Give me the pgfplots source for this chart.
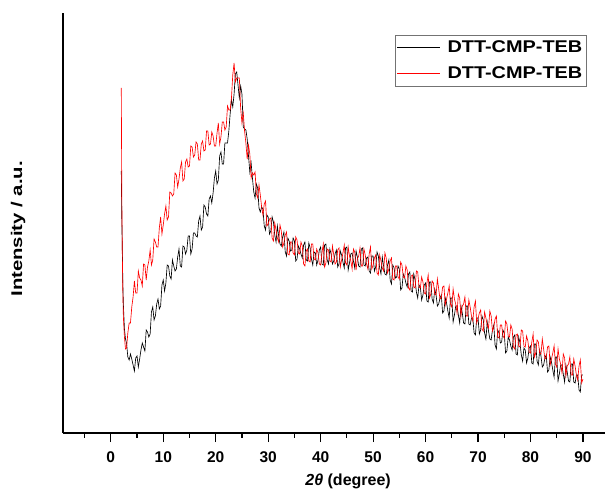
\documentclass[border=0pt]{standalone}
\usepackage{fontspec}
\setmainfont{Liberation Sans}
\newfontfamily\legfont[FakeStretch=1.17]{Liberation Sans}
\newfontfamily\ylabfont[FakeStretch=1.31]{Liberation Sans}
\usepackage{pgfplots}
\pgfplotsset{compat=1.18}
\usepackage{pgfplotstable}

\pgfplotstableread{
x y
2.0 262
2.1 215
2.2 182
2.3 148
2.4 128
2.6 104
2.8 94
3.0 90
3.25 76
3.5 73
3.75 79
4.0 74
4.25 68
4.5 62
4.75 75
5.0 77
5.25 66
5.5 74
5.75 83
6.0 90
6.25 86
6.5 82
6.75 103
7.0 101
7.25 96
7.5 99
7.75 121
8.0 126
8.25 113
8.5 117
8.75 129
9.0 134
9.25 124
9.5 127
9.75 148
10.0 153
10.25 142
10.5 150
10.75 168
11.0 167
11.25 157
11.5 154
11.75 173
12.0 167
12.25 162
12.5 164
12.75 176
13.0 184
13.25 167
13.5 166
13.75 187
14.0 186
14.25 179
14.5 183
14.75 197
15.0 197
15.25 179
15.5 184
15.75 200
16.0 200
16.25 197
16.5 196
16.75 212
17.0 217
17.25 203
17.5 206
17.75 228
18.0 226
18.25 219
18.5 217
18.75 234
19.0 237
19.25 230
19.5 240
19.75 255
20.0 262
20.25 249
20.5 253
20.75 277
21.0 281
21.25 269
21.5 269
21.75 290
22.0 290
22.25 290
22.5 302
22.75 319
23.0 333
23.25 326
23.5 339
23.75 359
24.0 361
24.25 348
24.5 335
24.75 347
25.0 339
25.25 306
25.5 304
25.75 303
26.0 294
26.25 277
26.5 261
26.75 270
27.0 255
27.25 241
27.5 235
27.75 249
28.0 245
28.25 225
28.5 221
28.75 226
29.0 224
29.25 207
29.5 203
29.75 218
30.0 216
30.25 199
30.5 202
30.75 216
31.0 211
31.25 198
31.5 191
31.75 207
32.0 197
32.25 189
32.5 187
32.75 196
33.0 201
33.25 181
33.5 177
33.75 195
34.0 192
34.25 182
34.5 183
34.75 195
35.0 192
35.25 172
35.5 174
35.75 187
36.0 184
36.25 179
36.5 175
36.75 188
37.0 191
37.25 173
37.5 172
37.75 190
38.0 185
38.25 174
38.5 168
38.75 181
39.0 180
39.25 168
39.5 173
39.75 183
40.0 186
40.25 169
40.5 168
40.75 188
41.0 189
41.25 173
41.5 169
41.75 184
42.0 179
42.25 169
42.5 172
42.75 179
43.0 183
43.25 166
43.5 169
43.75 182
44.0 178
44.25 171
44.5 165
44.75 185
45.0 186
45.25 163
45.5 170
45.75 179
46.0 180
46.25 172
46.5 165
46.75 182
47.0 176
47.25 167
47.5 166
47.75 184
48.0 185
48.25 168
48.5 167
48.75 175
49.0 176
49.25 162
49.5 160
49.75 177
50.0 177
50.25 162
50.5 166
50.75 181
51.0 177
51.25 165
51.5 159
51.75 176
52.0 167
52.25 159
52.5 158
52.75 168
53.0 173
53.25 153
53.5 149
53.75 168
54.0 165
54.25 155
54.5 156
54.75 167
55.0 164
55.25 143
55.5 145
55.75 159
56.0 156
56.25 150
56.5 146
56.75 159
57.0 161
57.25 142
57.5 141
57.75 159
58.0 153
58.25 141
58.5 135
58.75 148
59.0 146
59.25 133
59.5 138
59.75 148
60.0 150
60.25 132
60.5 131
60.75 151
61.0 151
61.25 134
61.5 130
61.75 144
62.0 138
62.25 127
62.5 129
62.75 135
63.0 138
63.25 120
63.5 122
63.75 135
64.0 130
64.25 122
64.5 115
64.75 135
65.0 135
65.25 111
65.5 118
65.75 127
66.0 127
66.25 118
66.5 110
66.75 127
67.0 120
67.25 110
67.5 109
67.75 127
68.0 127
68.25 109
68.5 108
68.75 115
69.0 115
69.25 100
69.5 98
69.75 115
70.0 115
70.25 99
70.5 103
70.75 117
71.0 113
71.25 100
71.5 94
71.75 111
72.0 102
72.25 94
72.5 93
72.75 103
73.0 108
73.25 88
73.5 84
73.75 103
74.0 100
74.25 90
74.5 91
74.75 103
75.0 100
75.25 80
75.5 82
75.75 96
76.0 93
76.25 87
76.5 83
76.75 96
77.0 98
77.25 79
77.5 78
77.75 96
78.0 90
78.25 78
78.5 72
78.75 85
79.0 83
79.25 70
79.5 75
79.75 85
80.0 87
80.25 70
80.5 69
80.75 89
81.0 89
81.25 72
81.5 68
81.75 83
82.0 77
82.25 66
82.5 68
82.75 75
83.0 78
83.25 61
83.5 63
83.75 76
84.0 71
84.25 63
84.5 56
84.75 76
85.0 76
85.25 52
85.5 59
85.75 68
86.0 68
86.25 59
86.5 51
86.75 68
87.0 61
87.25 52
87.5 51
87.75 69
88.0 69
88.25 51
88.5 50
88.75 58
89.0 58
89.25 43
89.5 41
89.75 58
90.0 58
}\blackdata

\pgfplotstableread{
x y
2.0 345
2.05 290
2.1 235
2.2 178
2.3 140
2.4 116
2.6 96
2.8 84
3.0 85
3.25 100
3.5 110
3.75 110
4.0 126
4.25 136
4.5 152
4.75 140
5.0 140
5.25 162
5.5 155
5.75 153
6.0 147
6.25 169
6.5 168
6.75 153
7.0 166
7.25 172
7.5 183
7.75 168
8.0 173
8.25 194
8.5 191
8.75 186
9.0 186
9.25 205
9.5 216
9.75 199
10.0 208
10.25 219
10.5 227
10.75 213
11.0 216
11.25 241
11.5 240
11.75 237
12.0 239
12.25 260
12.5 258
12.75 246
13.0 254
13.25 265
13.5 271
13.75 252
14.0 254
14.25 271
14.5 274
14.75 266
15.0 267
15.25 287
15.5 286
15.75 276
16.0 278
16.25 291
16.5 289
16.75 273
17.0 273
17.25 289
17.5 292
17.75 282
18.0 283
18.25 302
18.5 302
18.75 288
19.0 289
19.25 301
19.5 297
19.75 287
20.0 287
20.25 300
20.5 310
20.75 289
21.0 296
21.25 311
21.5 311
21.75 303
22.0 306
22.25 327
22.5 323
22.75 323
23.0 335
23.25 358
23.5 370
23.75 351
24.0 355
24.25 355
24.5 355
24.75 325
25.0 310
25.25 320
25.5 302
25.75 290
26.0 274
26.25 288
26.5 279
26.75 255
27.0 260
27.25 258
27.5 261
27.75 239
28.0 235
28.25 248
28.5 238
28.75 226
29.0 218
29.25 229
29.5 232
29.75 207
30.0 209
30.25 214
30.5 215
30.75 195
31.0 192
31.25 210
31.5 203
31.75 195
32.0 191
32.25 208
32.5 202
32.75 186
33.0 190
33.25 198
33.5 201
33.75 179
34.0 178
34.25 191
34.5 191
34.75 180
35.0 178
35.25 196
35.5 193
35.75 180
36.0 179
36.25 191
36.5 187
36.75 169
37.0 167
37.25 182
37.5 184
37.75 172
38.0 171
38.25 189
38.5 189
38.75 174
39.0 173
39.25 184
39.5 180
39.75 169
40.0 168
40.25 180
40.5 189
40.75 166
41.0 170
41.25 184
41.5 183
41.75 172
42.0 171
42.25 187
42.5 178
42.75 169
43.0 171
43.25 183
43.5 185
43.75 166
44.0 173
44.25 180
44.5 188
44.75 170
45.0 168
45.25 186
45.5 177
45.75 172
46.0 164
46.25 184
46.5 181
46.75 163
47.0 174
47.25 177
47.5 185
47.75 167
48.0 167
48.25 184
48.5 178
48.75 169
49.0 164
49.25 179
49.5 186
49.75 164
50.0 168
50.25 175
50.5 178
50.75 160
51.0 158
51.25 178
51.5 172
51.75 165
52.0 162
52.25 180
52.5 175
52.75 160
53.0 164
53.25 172
53.5 175
53.75 154
54.0 153
54.25 167
54.5 167
54.75 156
55.0 154
55.25 171
55.5 168
55.75 156
56.0 155
56.25 167
56.5 163
56.75 145
57.0 143
57.25 157
57.5 158
57.75 146
58.0 145
58.25 162
58.5 161
58.75 146
59.0 145
59.25 156
59.5 151
59.75 140
60.0 139
60.25 150
60.5 158
60.75 135
61.0 139
61.25 152
61.5 150
61.75 139
62.0 138
62.25 154
62.5 144
62.75 134
63.0 135
63.25 146
63.5 147
63.75 128
64.0 134
64.25 140
64.5 147
64.75 129
65.0 126
65.25 144
65.5 134
65.75 129
66.0 120
66.25 139
66.5 135
66.75 117
67.0 127
67.25 129
67.5 136
67.75 117
68.0 117
68.25 133
68.5 126
68.75 117
69.0 112
69.25 126
69.5 132
69.75 110
70.0 114
70.25 120
70.5 123
70.75 104
71.0 102
71.25 121
71.5 115
71.75 108
72.0 105
72.25 122
72.5 117
72.75 102
73.0 106
73.25 114
73.5 117
73.75 96
74.0 95
74.25 108
74.5 108
74.75 97
75.0 95
75.25 112
75.5 109
75.75 97
76.0 96
76.25 108
76.5 104
76.75 86
77.0 84
77.25 98
77.5 99
77.75 87
78.0 86
78.25 103
78.5 102
78.75 87
79.0 86
79.25 97
79.5 92
79.75 81
80.0 80
80.25 91
80.5 99
80.75 76
81.0 80
81.25 93
81.5 91
81.75 80
82.0 79
82.25 94
82.5 84
82.75 74
83.0 75
83.25 86
83.5 87
83.75 68
84.0 74
84.25 80
84.5 87
84.75 69
85.0 66
85.25 84
85.5 74
85.75 69
86.0 60
86.25 79
86.5 75
86.75 57
87.0 67
87.25 69
87.5 76
87.75 58
88.0 58
88.25 74
88.5 67
88.75 58
89.0 53
89.25 67
89.5 73
89.75 50
90.0 54
}\reddata

\begin{document}
\begin{tikzpicture}
\useasboundingbox (-63pt,-65pt) rectangle (542pt,433pt);
\begin{axis}[
  at={(0pt,0pt)}, anchor=south west,
  scale only axis,
  width=542pt, height=420pt,
  xmin=-9.11, xmax=94.2,
  ymin=0, ymax=420,
  axis x line=bottom,
  axis y line=left,
  axis line style={line width=1.3pt, -},
  xtick={0,10,...,90},
  minor xtick={-5,5,...,95},
  ytick=\empty,
  tick style={line width=1.1pt, black},
  major tick length=9pt,
  minor tick length=4.5pt,
  tick align=outside,
  /pgf/number format/assume math mode=true,
  ticklabel style={font=\bfseries\fontsize{15.5}{17}\selectfont},
  xticklabel style={yshift=-6pt},
  xlabel={\textit{2θ} (degree)},
  ylabel={\ylabfont\bfseries\fontsize{15.5}{17}\selectfont Intensity / a.u.},
  xlabel style={font=\bfseries\fontsize{16}{18}\selectfont,
    at={(axis description cs:0.526,0)}, anchor=base, yshift=-52pt},
  ylabel style={at={(axis description cs:-0.083,0.486)}, anchor=center},
  legend style={at={(axis description cs:0.966,0.948)}, anchor=north east,
    draw=black!55, fill=white, line width=0.5pt,
    font=\legfont\bfseries\fontsize{17}{20}\selectfont,
    row sep=8pt, column sep=5pt, inner xsep=2pt, inner ysep=4pt},
  legend cell align=left,
  legend image code/.code={\draw[line width=0.7pt,#1] (0pt,0pt) -- (43pt,0pt);},
]
\addplot[black, line width=0.65pt, mark=none]
  table[x=x,y=y] {\blackdata};
\addlegendentry{DTT-CMP-TEB}
\addplot[red, line width=0.65pt, mark=none]
  table[x=x,y=y] {\reddata};
\addlegendentry{DTT-CMP-TEB}
\end{axis}
\end{tikzpicture}
\end{document}
